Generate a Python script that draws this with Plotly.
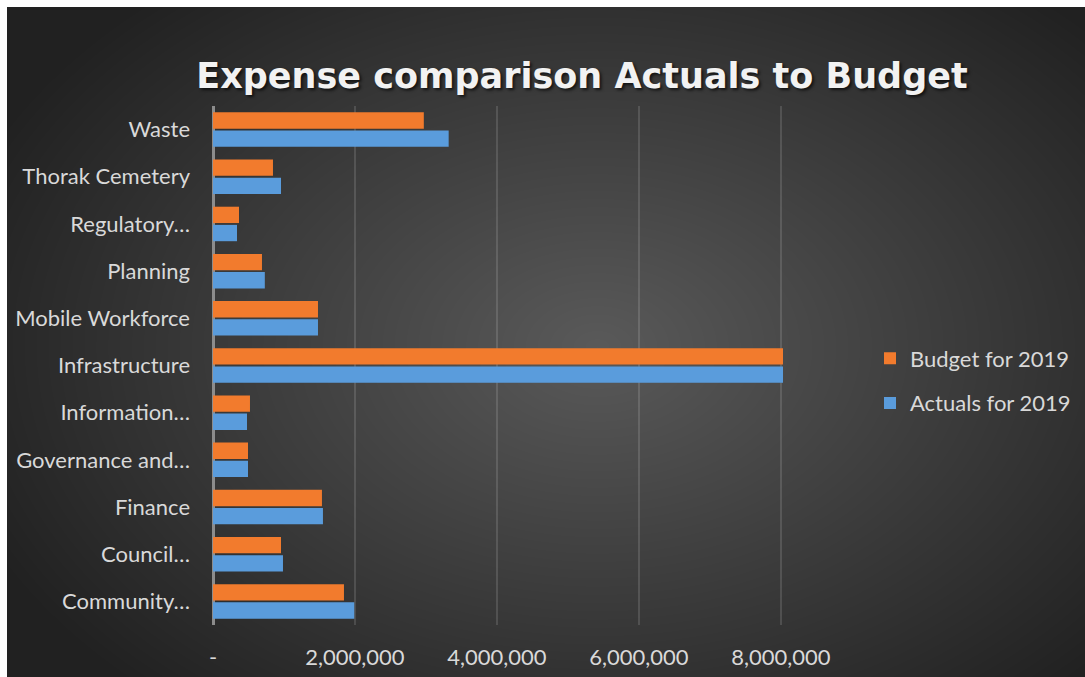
import base64
import struct
import zlib

import numpy as np
import plotly.graph_objects as go

# Expense categories, listed top to bottom
categories = [
    "Waste",
    "Thorak Cemetery",
    "Regulatory…",
    "Planning",
    "Mobile Workforce",
    "Infrastructure",
    "Information…",
    "Governance and…",
    "Finance",
    "Council…",
    "Community…",
]

budget_2019 = [2970000, 845000, 366000, 690000, 1479000, 8030000,
               521000, 493000, 1535000, 958000, 1845000]
actuals_2019 = [3320000, 958000, 338000, 730000, 1479000, 8030000,
                479000, 493000, 1549000, 986000, 1990000]

tick_values = [0, 2000000, 4000000, 6000000, 8000000]
tick_labels = ["-", "2,000,000", "4,000,000", "6,000,000", "8,000,000"]

W, H = 1085, 677
M_L, M_R, M_T, M_B = 213, 302, 106, 52
PLOT_W = W - M_L - M_R
PLOT_H = H - M_T - M_B
X_MAX = 8030000


def png_data_uri(rgb):
    """Encode an HxWx3 uint8 array as a PNG data URI."""
    h, w, _ = rgb.shape
    raw = b"".join(b"\x00" + rgb[r].tobytes() for r in range(h))

    def chunk(tag, data):
        c = struct.pack(">I", len(data)) + tag + data
        return c + struct.pack(">I", zlib.crc32(tag + data) & 0xFFFFFFFF)

    png = b"\x89PNG\r\n\x1a\n"
    png += chunk(b"IHDR", struct.pack(">IIBBBBB", w, h, 8, 2, 0, 0, 0))
    png += chunk(b"IDAT", zlib.compress(raw, 9))
    png += chunk(b"IEND", b"")
    return "data:image/png;base64," + base64.b64encode(png).decode()


# Radial grey backdrop for the chart area (runs past the right/bottom edges)
BG_X0, BG_Y0 = 7, 7
bw, bh = W - BG_X0 + 20, H - BG_Y0 + 20
yy, xx = np.mgrid[0:bh, 0:bw].astype(float)
cx, cy = 590.0, 340.0
d = np.sqrt(((xx - cx) / 680.0) ** 2 + ((yy - cy) / 470.0) ** 2)
d = np.clip(d, 0, 1)
inner, outer = 90.0, 33.0
val = inner + (outer - inner) * d ** 1.0
bg = np.repeat(val[:, :, None], 3, axis=2).astype(np.uint8)
bg_uri = png_data_uri(bg)

fig = go.Figure()
fig.add_trace(go.Bar(
    name="Budget for 2019",
    y=categories,
    x=budget_2019,
    orientation="h",
    marker=dict(color="#F27B2D", line=dict(width=0)),
    legendgroup="budget",
))
fig.add_trace(go.Bar(
    name="Actuals for 2019",
    y=categories,
    x=actuals_2019,
    orientation="h",
    marker=dict(color="#5A9CDC", line=dict(width=0)),
    legendgroup="actuals",
))

fig.add_layout_image(dict(
    source=bg_uri,
    xref="paper", yref="paper",
    x=(BG_X0 - M_L) / PLOT_W,
    y=1 + (M_T - BG_Y0) / PLOT_H,
    sizex=bw / PLOT_W,
    sizey=bh / PLOT_H,
    xanchor="left", yanchor="top",
    sizing="stretch",
    layer="below",
))

label_font = dict(family="Lato, Open Sans, sans-serif", size=22, color="#D9D9D9")

fig.update_layout(
    width=W, height=H,
    margin=dict(l=M_L, r=M_R, t=M_T, b=M_B, pad=0, autoexpand=False),
    paper_bgcolor="#FFFFFF",
    plot_bgcolor="rgba(0,0,0,0)",
    barmode="group",
    bargap=0.23,
    bargroupgap=0.1,
    title=dict(
        text="<b>Expense comparison Actuals to Budget</b>",
        x=582 / W, xanchor="center",
        y=1 - 76 / H, yanchor="middle",
        font=dict(family="DejaVu Sans, sans-serif", size=35, color="#F2F2F2",
                  shadow="2px 2px 3px rgba(0,0,0,0.65)"),
        automargin=False,
    ),
    legend=dict(
        x=870 / W, xanchor="left",
        y=1 - 381 / H, yanchor="middle",
        xref="container", yref="container",
        bgcolor="rgba(0,0,0,0)",
        font=label_font,
        tracegroupgap=13,
        traceorder="grouped",
    ),
    xaxis=dict(
        range=[0, X_MAX],
        tickvals=tick_values,
        ticktext=tick_labels,
        tickfont=label_font,
        showgrid=True,
        gridcolor="rgba(255,255,255,0.13)",
        gridwidth=1.5,
        zeroline=True,
        zerolinecolor="#8C8C8C",
        zerolinewidth=2.5,
        showline=False,
        ticks="",
        ticklabelstandoff=17,
        automargin=False,
        fixedrange=True,
    ),
    yaxis=dict(
        autorange="reversed",
        tickfont=label_font,
        showgrid=False,
        zeroline=False,
        showline=False,
        ticks="",
        ticklabelstandoff=22,
        automargin=False,
        fixedrange=True,
    ),
)

fig.write_html("out.html")
